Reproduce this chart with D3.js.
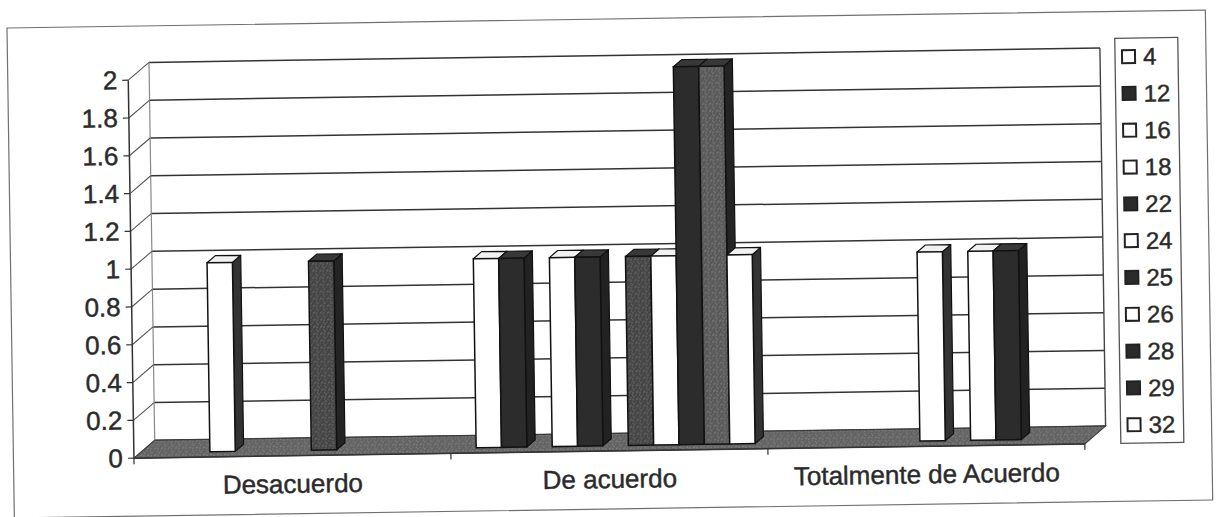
<!DOCTYPE html>
<html>
<head>
<meta charset="utf-8">
<script src="https://cdn.jsdelivr.net/npm/d3@7"></script>
<style>
  html, body { margin: 0; padding: 0; background: #fff; }
  svg { display: block; font-family: "Liberation Sans", Arial, sans-serif; }
  text { stroke: #2b2b2b; stroke-width: 0.45px; }
</style>
</head>
<body>
<svg id="chart" width="1218" height="517"></svg>
<script>
// ---- data ----
const categories = ["Desacuerdo", "De acuerdo", "Totalmente de Acuerdo"];
const seriesNames = ["4", "12", "16", "18", "22", "24", "25", "26", "28", "29", "32"];
const valuesDesacuerdo = [0, 0, 1, 0, 0, 0, 1, 0, 0, 0, 0];
const valuesDeAcuerdo  = [1, 1, 0, 1, 1, 0, 1, 1, 2, 2, 1];
const valuesTotalmente = [0, 0, 0, 0, 0, 1, 0, 1, 1, 0, 0];
const yTickValues = [0, 0.2, 0.4, 0.6, 0.8, 1, 1.2, 1.4, 1.6, 1.8, 2];

const valuesByCategory = [valuesDesacuerdo, valuesDeAcuerdo, valuesTotalmente];

// ---- look ----
const ink = "#2b2b2b";
const tone = {
  "4": "light", "12": "dark", "16": "light", "18": "light", "22": "dark",
  "24": "light", "25": "grain", "26": "light", "28": "dark", "29": "grainLight", "32": "light"
};

const svg = d3.select("#chart");
const defs = svg.append("defs");

// small speckled tiles for the textured fills
function stipple(id, base, dot) {
  const p = defs.append("pattern").attr("id", id)
    .attr("width", 7).attr("height", 7).attr("patternUnits", "userSpaceOnUse");
  p.append("rect").attr("width", 7).attr("height", 7).attr("fill", base);
  [[1, 1], [4, 3], [2, 5], [6, 6], [5, 0.5], [0.5, 3.5]].forEach(([cx, cy], i) => {
    p.append("circle").attr("cx", cx).attr("cy", cy).attr("r", i % 2 ? 0.6 : 0.8).attr("fill", dot);
  });
}
stipple("grainFill", "#444", "#787878");
stipple("grainLightFill", "#585858", "#8a8a8a");
stipple("floorFill", "#636363", "#8a8a8a");

const faces = {
  light:      { front: "#ffffff", top: "#f1f1f1", side: "#333" },
  dark:       { front: "#2c2c2c", top: "#383838", side: "#222" },
  grain:      { front: "url(#grainFill)", top: "#383838", side: "#242424" },
  grainLight: { front: "url(#grainLightFill)", top: "#383838", side: "#242424" }
};

// ---- geometry ----
const plot = { left: 131, right: 1082 };
const depth = { dx: 21, dy: -17.5 };           // floor depth (front edge -> back wall)
const barInset = 0.3, barDepth = 0.4;          // bar sits in the middle of the floor depth

const x0 = d3.scaleBand().domain(categories).range([plot.left, plot.right]);
const x1 = d3.scaleBand().domain(seriesNames).range([0, x0.bandwidth()]).paddingOuter(0.75);
const y = d3.scaleLinear().domain([0, 2]).range([451, 73]);

// whole drawing sits slightly tilted
const root = svg.append("g").attr("transform", "rotate(-0.86 609 258)");

// chart area frame
root.append("rect")
  .attr("x", 10.5).attr("y", 19).attr("width", 1198.5).attr("height", 490)
  .attr("fill", "#fff").attr("stroke", "#707070").attr("stroke-width", 1.2);

const backX0 = plot.left + depth.dx, backX1 = plot.right + depth.dx;
const by = v => y(v) + depth.dy;

// back wall
root.append("rect")
  .attr("x", backX0).attr("y", by(2)).attr("width", backX1 - backX0).attr("height", by(0) - by(2))
  .attr("fill", "#fff");

// back wall gridlines
root.append("g").selectAll("line").data(yTickValues).join("line")
  .attr("x1", backX0).attr("x2", backX1)
  .attr("y1", d => by(d)).attr("y2", d => by(d))
  .attr("stroke", "#333").attr("stroke-width", 1.5);

// back wall edges
root.append("line").attr("x1", backX0).attr("x2", backX0).attr("y1", by(2)).attr("y2", by(0))
  .attr("stroke", "#8a8a8a").attr("stroke-width", 1.2);
root.append("line").attr("x1", backX1).attr("x2", backX1).attr("y1", by(2)).attr("y2", by(0))
  .attr("stroke", "#444").attr("stroke-width", 1.4);

// side wall gridlines (front axis -> back wall)
root.append("g").selectAll("line").data(yTickValues).join("line")
  .attr("x1", plot.left).attr("x2", backX0)
  .attr("y1", d => y(d)).attr("y2", d => by(d))
  .attr("stroke", "#555").attr("stroke-width", 1.1);

// floor
const floorPts = [
  [plot.left, y(0)], [plot.right, y(0)],
  [plot.right + depth.dx, by(0)], [plot.left + depth.dx, by(0)]
];
root.append("polygon")
  .attr("points", floorPts.map(p => p.join(",")).join(" "))
  .attr("fill", "url(#floorFill)").attr("stroke", "#3a3a3a").attr("stroke-width", 1);

// bars
const bw = x1.bandwidth();
const ix = depth.dx * barInset, iy = depth.dy * barInset;
const ddx = depth.dx * barDepth, ddy = depth.dy * barDepth;

categories.forEach((cat, ci) => {
  const g = root.append("g").attr("class", "cluster");
  seriesNames.forEach((s, si) => {
    const v = valuesByCategory[ci][si];
    if (!v) return;
    const f = faces[tone[s]];
    const xf = x0(cat) + x1(s) + ix;
    const yt = y(v) + iy, yb = y(0) + iy;
    const bar = g.append("g");
    bar.append("polygon")
      .attr("points", [[xf + bw, yt], [xf + bw + ddx, yt + ddy], [xf + bw + ddx, yb + ddy], [xf + bw, yb]]
        .map(p => p.join(",")).join(" "))
      .attr("fill", f.side).attr("stroke", "#111").attr("stroke-width", 1.2).attr("stroke-linejoin", "round");
    bar.append("polygon")
      .attr("points", [[xf, yt], [xf + ddx, yt + ddy], [xf + bw + ddx, yt + ddy], [xf + bw, yt]]
        .map(p => p.join(",")).join(" "))
      .attr("fill", f.top).attr("stroke", "#111").attr("stroke-width", 1.2).attr("stroke-linejoin", "round");
    bar.append("rect")
      .attr("x", xf).attr("y", yt).attr("width", bw).attr("height", yb - yt)
      .attr("fill", f.front).attr("stroke", "#111").attr("stroke-width", 1.5);
  });
});

// value axis
const yAxis = root.append("g");
yAxis.append("line").attr("x1", plot.left).attr("x2", plot.left).attr("y1", y(0)).attr("y2", y(2))
  .attr("stroke", "#333").attr("stroke-width", 1.5);
yAxis.selectAll("line.tick").data(yTickValues).join("line").attr("class", "tick")
  .attr("x1", plot.left - 6).attr("x2", plot.left)
  .attr("y1", d => y(d)).attr("y2", d => y(d))
  .attr("stroke", "#333").attr("stroke-width", 1.2);
yAxis.selectAll("text").data(yTickValues).join("text")
  .attr("x", plot.left - 11).attr("y", d => y(d))
  .attr("text-anchor", "end").attr("dominant-baseline", "central")
  .attr("font-size", 26).attr("fill", ink)
  .text(d => d3.format("~g")(d));

// category axis
const xAxis = root.append("g");
xAxis.append("line").attr("x1", plot.left).attr("x2", plot.right).attr("y1", y(0)).attr("y2", y(0))
  .attr("stroke", "#333").attr("stroke-width", 1.5);
const bounds = categories.map(c => x0(c)).concat([plot.right]);
xAxis.selectAll("line.tick").data(bounds).join("line").attr("class", "tick")
  .attr("x1", d => d).attr("x2", d => d).attr("y1", y(0)).attr("y2", y(0) + 6)
  .attr("stroke", "#333").attr("stroke-width", 1.2);
xAxis.selectAll("text").data(categories).join("text")
  .attr("x", d => x0(d) + x0.bandwidth() / 2).attr("y", 488)
  .attr("text-anchor", "middle").attr("font-size", 26).attr("fill", ink)
  .text(d => d);

// legend
const legend = root.append("g");
legend.append("rect").attr("x", 1118).attr("y", 46).attr("width", 63).attr("height", 405)
  .attr("fill", "#fff").attr("stroke", "#555").attr("stroke-width", 1.3);
const ly = d3.scalePoint().domain(seriesNames).range([64.4, 432.6]);
const items = legend.selectAll("g.item").data(seriesNames).join("g").attr("class", "item")
  .attr("transform", d => `translate(0,${ly(d)})`);
items.append("rect")
  .attr("x", 1125).attr("y", -6.5).attr("width", 13).attr("height", 13)
  .attr("fill", d => tone[d] === "light" ? "#fff" : "#2b2b2b")
  .attr("stroke", "#222").attr("stroke-width", 2);
items.append("text")
  .attr("x", 1146).attr("y", 0).attr("dominant-baseline", "central")
  .attr("font-size", 24).attr("fill", ink)
  .text(d => d);
</script>
</body>
</html>
